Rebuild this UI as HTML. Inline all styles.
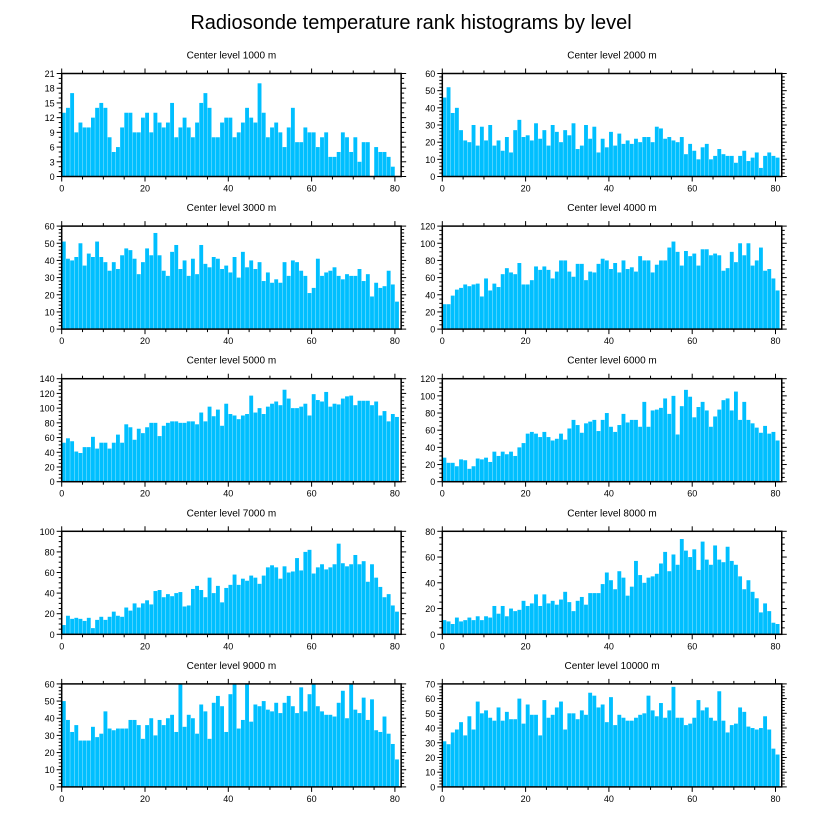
<!DOCTYPE html>
<html><head><meta charset="utf-8">
<style>
html,body{margin:0;padding:0;background:#fff;}
svg{display:block;font-family:"Liberation Sans",Arial,sans-serif;}
</style></head>
<body>
<svg id="chart" width="822" height="824" viewBox="0 0 822 824" xmlns="http://www.w3.org/2000/svg">
<text x="411" y="29" text-anchor="middle" font-size="20">Radiosonde temperature rank histograms by level</text>
</svg>
<script>
const titles = ["Center level 1000 m","Center level 2000 m","Center level 3000 m","Center level 4000 m","Center level 5000 m","Center level 6000 m","Center level 7000 m","Center level 8000 m","Center level 9000 m","Center level 10000 m"];
const yMaxes = [21,60,60,120,140,120,100,80,60,70];
const yMajors = [3,10,10,20,20,20,20,20,10,10];
const xTickLabels = [0,20,40,60,80];
const counts1000 = [13,14,17,9,11,10,10,12,14,15,14,8,5,6,10,13,13,9,9,12,13,9,13,11,10,11,15,8,10,12,10,8,11,15,17,14,8,8,11,12,12,8,9,11,14,12,11,19,13,8,10,11,9,6,10,14,7,7,10,9,9,6,8,9,4,4,5,9,8,5,8,3,7,7,0,6,5,5,4,2];
const counts2000 = [46,52,37,40,27,21,20,30,18,29,21,30,18,21,15,23,14,27,33,23,24,21,31,22,27,18,30,26,20,27,24,31,16,18,30,22,29,14,22,17,26,18,25,19,21,19,22,20,23,23,20,29,28,22,23,21,20,23,13,19,15,10,17,19,10,12,16,13,12,12,8,12,15,9,11,14,5,12,14,12,11];
const counts3000 = [51,41,40,42,50,37,44,42,51,42,39,34,39,35,43,47,46,41,32,39,47,43,56,43,34,31,45,49,35,40,31,41,32,49,38,36,42,41,35,37,33,42,30,45,36,40,35,39,28,33,27,29,27,39,31,40,39,34,31,21,24,41,31,33,34,36,31,29,32,31,31,35,28,32,19,27,24,25,34,26,16];
const counts4000 = [29,29,39,46,48,52,50,52,53,38,59,45,53,49,64,71,66,64,77,52,52,57,73,69,73,69,59,67,80,80,67,61,76,76,57,67,66,76,82,80,70,77,66,80,70,72,67,85,80,80,66,75,80,80,95,102,90,74,91,85,88,74,93,93,86,88,86,68,71,90,78,100,86,100,74,80,95,68,70,59,45];
const counts5000 = [53,59,55,41,39,47,47,61,45,53,53,45,53,64,53,78,74,57,72,66,74,80,80,62,76,80,82,82,80,80,82,82,78,94,82,102,89,98,76,106,92,90,85,90,92,117,94,100,92,102,106,109,104,125,113,100,100,102,106,90,119,111,109,122,102,106,105,113,116,117,104,110,110,110,104,109,90,96,82,92,88];
const counts6000 = [28,22,22,18,26,25,15,18,27,26,28,23,35,30,35,32,35,30,40,45,56,58,56,52,58,52,48,50,56,49,62,72,66,57,68,70,72,59,72,80,64,58,66,79,69,72,72,64,93,64,83,84,86,97,79,100,55,88,107,99,75,87,93,83,64,76,84,95,97,83,105,72,93,72,68,63,57,65,56,58,48];
const counts7000 = [9,18,15,16,15,13,16,6,14,17,14,17,22,18,17,26,23,30,26,30,33,29,42,43,36,39,37,40,41,27,28,44,47,43,36,55,40,47,31,45,48,58,48,54,52,57,55,49,57,65,67,65,54,66,60,61,74,62,80,82,59,65,68,63,65,68,88,69,66,68,77,68,71,51,68,55,46,36,39,28,22];
const counts8000 = [11,10,8,13,10,11,13,11,14,11,14,13,22,16,22,14,20,18,19,26,22,24,31,22,31,24,26,23,27,33,25,18,26,29,23,32,32,32,39,48,42,35,49,44,30,37,57,46,40,44,45,47,55,64,49,62,54,74,65,60,66,50,72,58,54,69,58,56,68,57,54,45,35,42,33,28,17,24,18,9,8];
const counts9000 = [50,39,32,36,27,27,27,35,29,31,44,34,33,34,34,34,39,39,36,28,36,40,30,39,36,40,42,32,60,35,42,40,31,48,44,28,49,53,47,32,54,60,34,39,60,38,48,47,50,45,44,49,43,49,53,47,43,58,44,54,60,47,44,42,42,41,49,56,40,60,45,43,52,39,51,33,32,41,31,25,16];
const counts10000 = [31,29,37,39,44,35,48,39,58,50,52,47,45,54,45,51,46,46,60,43,56,49,49,35,59,47,49,54,58,39,50,50,46,52,49,64,62,54,56,44,61,42,49,47,45,45,47,49,50,62,52,48,57,47,52,68,47,47,42,43,47,59,52,54,47,45,65,45,37,42,43,54,51,41,40,39,40,48,39,26,22];
const allCounts = [counts1000,counts2000,counts3000,counts4000,counts5000,counts6000,counts7000,counts8000,counts9000,counts10000];

const NS = "http://www.w3.org/2000/svg";
const svg = document.getElementById("chart");
function mk(tag, attrs, parent){const e=document.createElementNS(NS,tag);for(const k in attrs)e.setAttribute(k,attrs[k]);(parent||svg).appendChild(e);return e;}

const pxPerUnit = 4.165;
const xDomainMax = 81.5;
const panelH = 103;
for (let p = 0; p < 10; p++) {
  const col = p % 2, row = Math.floor(p / 2);
  const x0 = col === 0 ? 61.7 : 442.3;
  const top = 73.5 + row * 152.6;
  const bottom = top + panelH;
  const yMax = yMaxes[p];
  const xS = v => x0 + v * pxPerUnit;
  const yS = v => bottom - Math.min(v, yMax) / yMax * panelH;
  const right = xS(xDomainMax);
  const g = mk("g", {});
  
  
  const t = mk("text", {x:(x0+right)/2, y:top-15, "text-anchor":"middle", "font-size":"10"}, g);
  
  
  t.textContent = titles[p];
  const data = allCounts[p];
  for (let i = 0; i < data.length; i++) {
    if (data[i] <= 0) continue;
    const r = mk("rect", {x:xS(i)+0.15, y:yS(data[i]), width:pxPerUnit-0.3, height:bottom-yS(data[i]), fill:"#00bfff"}, g);
    
    
  }
  const fr = mk("rect", {x:x0, y:top, width:right-x0, height:panelH, fill:"none", stroke:"#000", "stroke-width":"1.5"}, g);
  
  
  for (let v = 0; v <= 80; v += 5) {
    const major = v % 20 === 0, len = major ? 5 : 3, x = xS(v);
    mk("line", {x1:x, x2:x, y1:bottom, y2:bottom+len, stroke:"#000", "stroke-width":"1"}, g);
    mk("line", {x1:x, x2:x, y1:top, y2:top-len, stroke:"#000", "stroke-width":"1"}, g);
  }
  for (const v of xTickLabels) {
    const tl = mk("text", {x:xS(v), y:bottom+15, "text-anchor":"middle", "font-size":"9"}, g);
    
    
    tl.textContent = v;
  }
  const maj = yMajors[p], minor = maj / (maj === 3 ? 3 : (maj === 10 ? 5 : 4));
  for (let v = 0; v <= yMax + 1e-9; v += minor) {
    const isMaj = Math.abs(v / maj - Math.round(v / maj)) < 1e-6, len = isMaj ? 5 : 3, y = yS(v);
    mk("line", {x1:x0, x2:x0-len, y1:y, y2:y, stroke:"#000", "stroke-width":"1"}, g);
    mk("line", {x1:right, x2:right+len, y1:y, y2:y, stroke:"#000", "stroke-width":"1"}, g);
  }
  for (let v = 0; v <= yMax; v += maj) {
    const tl = mk("text", {x:x0-7, y:yS(v)+3.5, "text-anchor":"end", "font-size":"9"}, g);
    
    
    tl.textContent = v;
  }
}
</script>
</body></html>
